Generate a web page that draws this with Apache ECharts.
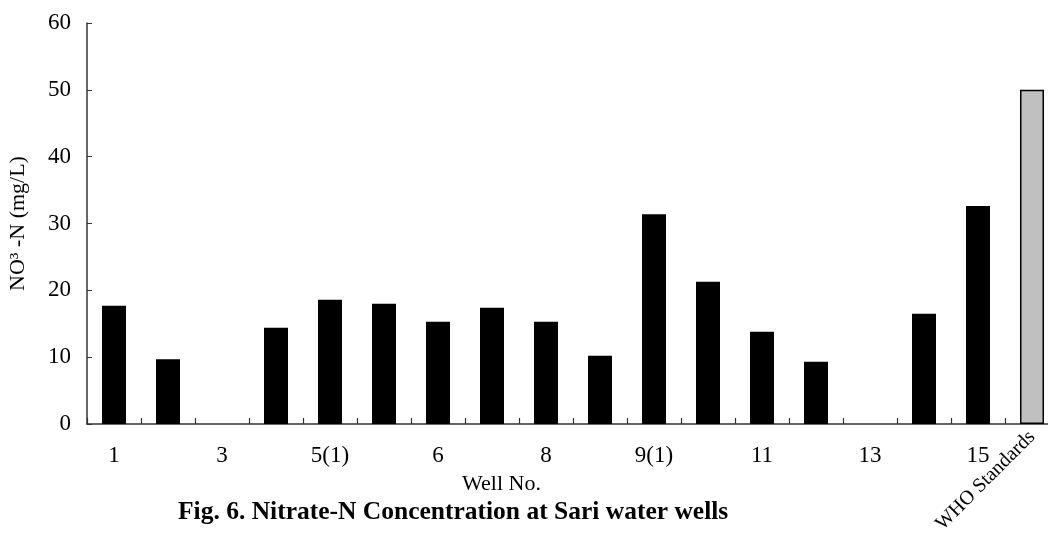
<!DOCTYPE html>
<html>
<head>
<meta charset="utf-8">
<script src="https://cdn.jsdelivr.net/npm/echarts@6/dist/echarts.min.js"></script>
<style>html,body{margin:0;padding:0;background:#fff}#c{width:1048px;height:540px}</style>
</head>
<body>
<div id="c"></div>
<script>
const categories = ['1','2','3','4','5(1)','5(2)','6','7','8','9','9(1)','10','11','12','13','14','15','WHO Standards'];
const nitrate = [17.7, 9.7, 0, 14.4, 18.6, 18.0, 15.3, 17.4, 15.3, 10.2, 31.4, 21.3, 13.8, 9.3, 0, 16.5, 32.6, 50];
const yTicks = { min: 0, max: 60, interval: 10 };

const FONT = 'Liberation Serif';
const last = categories.length - 1;
const chart = echarts.init(document.getElementById('c'));
chart.setOption({
  animation: false,
  backgroundColor: '#fff',
  grid: { left: 87, width: 972, top: 23, height: 401, containLabel: false, outerBoundsMode: 'none' },
  xAxis: [{
    type: 'category',
    data: categories,
    boundaryGap: true,
    axisLine: { lineStyle: { color: '#333', width: 1.5 } },
    axisTick: { show: true, inside: true, length: 6, interval: 0, lineStyle: { color: '#333', width: 1.2 } },
    axisLabel: {
      interval: (i) => i % 2 === 0 && i < last,
      color: '#000', fontFamily: FONT, fontSize: 23, margin: 20
    }
  }, {
    type: 'category',
    data: categories,
    position: 'bottom',
    boundaryGap: true,
    axisLine: { show: false },
    axisTick: { show: false },
    axisLabel: {
      interval: (i) => i === last,
      rotate: 45,
      color: '#000', fontFamily: FONT, fontSize: 20, margin: 10
    }
  }],
  yAxis: {
    type: 'value',
    min: yTicks.min, max: yTicks.max, interval: yTicks.interval,
    axisLine: { show: true, lineStyle: { color: '#333', width: 1.5 } },
    axisTick: { show: true, inside: true, length: 5, lineStyle: { color: '#333' } },
    splitLine: { show: false },
    axisLabel: { color: '#000', fontFamily: FONT, fontSize: 23, margin: 16 },
    name: 'NO\u00B3 -N (mg/L)',
    nameLocation: 'middle',
    nameGap: 58,
    nameRotate: 90,
    nameTextStyle: { color: '#000', fontFamily: FONT, fontSize: 22 }
  },
  series: [{
    type: 'bar',
    xAxisIndex: 0,
    barWidth: 24,
    data: nitrate.map((v, i) => i === last
      ? { value: v, itemStyle: { color: '#c0c0c0', borderColor: '#000', borderWidth: 1.5 } }
      : { value: v, itemStyle: { color: '#000' } })
  }],
  graphic: [
    { type: 'text', left: 462, top: 473, style: { text: 'Well No.', fill: '#000', font: '22px "Liberation Serif"' } },
    { type: 'text', left: 178, top: 499, style: { text: 'Fig. 6. Nitrate-N Concentration at Sari water wells', fill: '#000', font: 'bold 25.5px "Liberation Serif"' } }
  ]
});
</script>
</body>
</html>
